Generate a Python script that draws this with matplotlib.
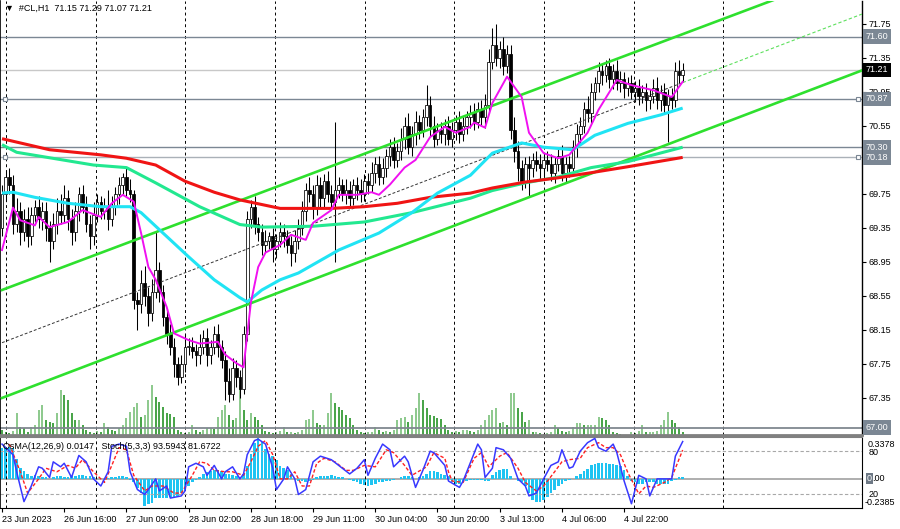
import matplotlib
matplotlib.use("Agg")
import matplotlib.pyplot as plt

plt.rcParams['font.family'] = ['Liberation Sans', 'DejaVu Sans']

# ---- data (CL, H1) ----
first_open = 69.35
closes = [
    69.75, 69.95, 69.85, 69.40, 69.55, 69.30, 69.45, 69.25, 69.50, 69.60, 69.45, 69.55,
    69.35, 69.20, 69.40, 69.55, 69.50, 69.70, 69.45, 69.30, 69.55, 69.75, 69.60, 69.40, 69.25, 69.50, 69.65, 69.55,
    69.60, 69.45, 69.60, 69.75, 69.85, 69.95, 69.80, 69.75,
    68.50,
    68.45, 68.70, 68.55, 68.35, 68.60, 68.85, 68.60,
    68.30, 68.10, 67.95, 67.75, 67.60, 67.75, 67.95,
    67.95, 67.90, 67.85, 67.95, 68.05, 67.85, 67.95, 68.10, 67.95, 67.80,
    67.55, 67.40, 67.70, 67.60, 67.45,
    68.10, 69.45, 69.60, 69.40,
    69.30, 69.15, 69.20, 69.25, 69.10, 69.20, 69.30, 69.25, 69.15, 69.05, 69.20,
    69.35, 69.55, 69.80, 69.75, 69.60, 69.85,
    69.70, 69.90, 69.75, 69.65, 69.80, 69.85, 69.75, 69.80, 69.70, 69.85, 69.80, 69.75, 69.90,
    69.85, 70.00, 70.10, 69.95, 70.05, 70.20, 70.30, 70.15, 70.25,
    70.40, 70.55, 70.30, 70.45, 70.60, 70.50, 70.65, 70.80, 70.55, 70.40, 70.50,
    70.45, 70.55, 70.40, 70.50, 70.60, 70.45, 70.55, 70.65,
    70.70, 70.60, 70.75, 70.65, 70.80,
    71.30, 71.50, 71.35, 71.45, 71.25, 71.40,
    70.50, 70.25, 70.05, 69.90, 70.10,
    70.05, 70.15, 70.10, 70.05, 70.15, 70.10, 70.00, 70.10, 70.20, 70.00, 70.10,
    70.05, 70.30, 70.45, 70.55, 70.75, 70.70, 70.95, 71.05,
    71.20, 71.15, 71.25, 71.10, 71.20, 71.05, 71.10, 71.00,
    71.05, 70.95, 71.00, 70.90, 70.95, 70.85, 70.90, 71.00, 70.85, 70.95, 70.80,
    70.90, 70.85, 71.20, 71.15, 71.21,
]
wick_up = [
    .10, .08, .10, .12, .15, .10, .12, .15, .10, .08, .12, .10,
    .10, .08, .12, .15, .20, .15, .10, .12, .10, .08, .10, .12, .10, .15, .10, .08,
    .10, .20, .12, .08, .10, .05, .10, .12,
    .05,
    .10, .15, .20, .10, .15, .45, .10,
    .08, .10, .12, .10, .08, .10, .15,
    .10, .12, .08, .15, .10, .12, .08, .10, .12, .08,
    .10, .15, .12, .10, .08,
    .10, .10, .08, .12,
    .08, .10, .12, .05, .10, .08, .12, .10, .08, .10, .12,
    .10, .12, .08, .15, .10, .12,
    .10, .08, .12, .10, .80, .10, .08, .12, .10, .08, .10, .12, .08,
    .10, .12, .08, .10, .12, .08, .10, .12, .10,
    .12, .10, .15, .10, .12, .08, .10, .23, .10, .12, .08,
    .10, .08, .12, .10, .08, .12, .10, .08,
    .10, .12, .08, .10, .12,
    .15, .20, .25, .10, .15, .10,
    .10, .15, .12, .10, .08,
    .10, .08, .10, .12, .08, .10, .12, .08, .10, .12, .08,
    .10, .08, .12, .10, .08, .15, .10, .08,
    .10, .08, .08, .10, .08, .12, .10, .08,
    .08, .10, .08, .10, .08, .10, .08, .10, .12, .08, .10,
    .08, .10, .10, .12, .08,
]
wick_dn = [
    .10, .08, .10, .12, .10, .15, .10, .12, .10, .08, .10, .12,
    .15, .25, .10, .12, .10, .08, .12, .15, .10, .12, .08, .10, .15, .10, .08, .10,
    .10, .12, .08, .10, .12, .10, .08, .10,
    .10,
    .30, .10, .12, .15, .10, .08, .12,
    .10, .12, .10, .15, .10, .08, .10,
    .10, .08, .12, .10, .08, .12, .10, .08, .12, .10,
    .22, .10, .08, .12, .10,
    .05, .08, .10, .12,
    .10, .12, .08, .10, .15, .10, .08, .12, .10, .15, .10,
    .10, .08, .12, .10, .15, .10,
    .10, .12, .10, .08, .70, .10, .08, .12, .10, .08, .12, .10, .08,
    .10, .08, .12, .10, .08, .10, .12, .10, .08,
    .10, .12, .08, .10, .12, .10, .08, .10, .12, .10, .08,
    .10, .12, .08, .10, .12, .10, .08, .10,
    .12, .10, .08, .10, .12,
    .10, .08, .10, .12, .10, .08,
    .10, .12, .15, .10, .08,
    .33, .10, .08, .12, .10, .08, .10, .12, .08, .10, .12,
    .10, .08, .12, .10, .08, .10, .12, .10,
    .10, .12, .08, .10, .12, .08, .10, .12,
    .10, .08, .12, .10, .08, .12, .10, .08, .10, .12, .10,
    .44, .10, .08, .10, .08,
]
volumes = [
    5, 3, 2, 4, 22, 8, 7, 3, 8, 10,
    25, 30, 15, 13, 12, 22, 45, 40, 35, 22,
    15, 15, 10, 5, 3, 2, 4, 3, 12, 8,
    5, 4, 7, 10, 17, 23, 28, 32, 18, 20,
    35, 50, 38, 33, 28, 22, 21, 18, 5, 3,
    2, 3, 10, 5, 3, 5, 7, 7, 6, 18,
    25, 30, 20, 15, 17, 50, 25, 15, 22, 18,
    15, 10, 4, 3, 2, 3, 4, 8, 3, 3,
    2, 3, 5, 15, 16, 25, 12, 10, 10, 22,
    42, 32, 28, 25, 20, 17, 10, 5, 3, 2,
    3, 3, 8, 5, 3, 4, 3, 5, 15, 17,
    18, 13, 20, 27, 42, 35, 27, 20, 19, 17,
    16, 10, 5, 3, 4, 3, 5, 5, 4, 3,
    5, 10, 15, 20, 25, 27, 12, 13, 10, 42,
    42, 27, 23, 13, 15, 3, 3, 2, 1, 2,
    3, 10, 7, 4, 3, 4, 8, 12, 12, 10,
    10, 10, 10, 18, 17, 15, 10, 3, 2, 1,
    0, 0, 3, 2, 4, 10, 3, 3, 3, 4,
    10, 15, 23, 15, 12, 8, 3,
]

# moving averages (bar index, price)
ma200_bars = [0, 13, 27, 34, 42, 50, 58, 65, 76, 90, 99, 108, 117, 128, 134, 143, 152, 161, 171, 186]
ma200 = [70.40, 70.27, 70.21, 70.17, 70.09, 69.90, 69.77, 69.68, 69.58, 69.58, 69.60, 69.64,
         69.71, 69.76, 69.82, 69.89, 69.94, 70.00, 70.07, 70.18]
ma144_bars = [0, 4, 25, 34, 42, 54, 65, 71, 85, 99, 112, 128, 134, 143, 152, 161, 171, 186]
ma144 = [70.33, 70.24, 70.09, 70.06, 69.88, 69.60, 69.39, 69.36, 69.37, 69.42, 69.53, 69.70,
         69.79, 69.88, 69.95, 70.06, 70.13, 70.30]
ma50_bars = [0, 3, 9, 18, 27, 35, 38, 43, 51, 58, 65, 67, 71, 76, 81, 92, 103, 112, 119, 128,
             134, 142, 148, 156, 162, 171, 180, 186]
ma50 = [69.76, 69.77, 69.71, 69.64, 69.60, 69.60, 69.53, 69.33, 69.01, 68.74, 68.53, 68.48,
        68.62, 68.74, 68.82, 69.09, 69.29, 69.53, 69.76, 69.97, 70.23, 70.35, 70.30, 70.27,
        70.44, 70.58, 70.68, 70.76]
ma12_bars = [0, 3, 5, 9, 10, 13, 18, 22, 27, 30, 33, 36, 38, 40, 42, 45, 47, 51, 54, 59, 61,
             64, 66, 68, 70, 72, 76, 79, 83, 85, 90, 92, 97, 101, 103, 106, 110, 113, 117, 121,
             124, 128, 129, 132, 134, 138, 142, 144, 148, 152, 155, 160, 163, 168, 172, 178,
             183, 186]
ma12 = [69.09, 69.59, 69.44, 69.38, 69.48, 69.36, 69.42, 69.56, 69.48, 69.64, 69.74, 69.66,
        69.29, 68.89, 68.74, 68.42, 68.11, 68.03, 67.99, 68.01, 67.86, 67.76, 67.71, 68.47,
        68.89, 69.06, 69.15, 69.27, 69.21, 69.41, 69.56, 69.74, 69.74, 69.77, 69.74, 69.86,
        70.06, 70.15, 70.42, 70.54, 70.47, 70.54, 70.59, 70.53, 70.82, 71.13, 70.89, 70.47,
        70.23, 70.17, 70.21, 70.47, 70.74, 71.09, 71.03, 70.97, 70.89, 71.07]

# channel: anchors at first and last bar
chan_bars = [0, 186]
chan_upper = [68.62, 71.63]
chan_mid = [68.00, 71.06]
chan_lower = [67.35, 70.40]

levels = [71.60, 71.21, 70.87, 70.30, 70.18, 67.00]

osma = [
    .25, .26, .26, .25, .16, .09, .06, .04, .02, .03,
    .02, .01, .01, .00, .01, .02, .02, .015, .01, .02,
    .025, .03, .03, .02, .02, .01, .0, -.005, .0, .005,
    .01, .015, .02, .02, .01, -.01, -.03, -.08, -.12, -.22,
    -.21, -.20, -.16, -.16, -.16, -.16, -.15, -.15, -.14, -.12,
    -.10, -.06, -.03, -.01, .01, .04, .05, .06, .07, .07,
    .06, .04, .04, .03, .02, .01, .04, .10, .20, .29,
    .33, .30, .24, .20, .18, .15, .10, .09, .07, .04,
    .0, -.02, -.02, -.03, -.02, -.01, .01, .02, .02, .02,
    .03, .02, .01, .01, .0, -.01, -.02, -.03, -.04, -.05,
    -.06, -.05, -.04, -.03, -.03, -.02, -.02, -.01, .0, .01,
    .02, .02, .01, .0, .01, .02, .04, .06, .06, .05,
    .04, .03, .02, -.03, -.04, -.04, -.03, -.02, -.01, -.01,
    -.01, -.01, -.02, -.02, .03, .05, .07, .08, .08, .02,
    .0, -.02, -.03, -.06, -.12, -.17, -.19, -.19, -.17, -.15,
    -.12, -.09, -.06, -.04, -.02, -.01, .0, .02, .04, .06,
    .08, .11, .12, .13, .13, .13, .12, .12, .11, .10,
    .07, .02, -.02, -.03, -.04, -.04, -.03, -.03, -.03, -.04,
    -.04, -.04, -.04, -.02, -.01, .01, .0147,
]
stoch_bars = [0, 3, 4, 6, 8, 10, 11, 13, 14, 16, 17, 19, 21, 23, 25, 27, 29, 30, 32, 34, 35, 37,
              39, 40, 42, 43, 45, 46, 49, 50, 51, 53, 55, 56, 58, 60, 61, 63, 65, 66, 67, 69, 70,
              72, 74, 75, 77, 78, 80, 81, 83, 85, 87, 90, 92, 95, 97, 99, 100, 102, 104, 106,
              107, 110, 111, 113, 115, 117, 118, 121, 122, 125, 126, 130, 131, 132, 134, 135,
              137, 139, 141, 143, 144, 146, 148, 150, 152, 153, 155, 156, 158, 160, 162, 163,
              165, 167, 168, 170, 172, 174, 176, 177, 179, 181, 183, 184, 186]
stoch_main = [90, 75, 51, 9, 31, 58, 56, 43, 65, 58, 63, 43, 74, 65, 41, 31, 51, 87, 90, 87, 51,
              26, 19, 26, 41, 24, 31, 14, 17, 24, 58, 63, 58, 46, 60, 41, 51, 58, 41, 48, 75, 95,
              97, 90, 56, 26, 41, 58, 41, 19, 26, 65, 73, 68, 60, 48, 56, 68, 46, 70, 90, 82, 58,
              73, 65, 29, 53, 80, 78, 60, 38, 29, 38, 90, 82, 43, 56, 85, 82, 70, 41, 31, 17, 21,
              41, 60, 65, 82, 56, 58, 80, 92, 98, 85, 80, 90, 78, 38, 6, 46, 41, 17, 41, 41, 41,
              73, 93.5943]
signal_bars = [2, 5, 7, 10, 12, 15, 18, 20, 22, 25, 28, 30, 32, 34, 36, 39, 41, 44, 47, 49, 52,
               54, 56, 58, 61, 63, 66, 68, 70, 72, 74, 76, 78, 80, 82, 84, 86, 88, 91, 94, 96,
               99, 102, 105, 107, 110, 112, 116, 118, 121, 122, 123, 126, 129, 131, 133, 136,
               138, 141, 143, 146, 148, 151, 153, 155, 158, 160, 163, 165, 167, 169, 171, 174,
               176, 178, 181, 183, 186]
stoch_signal = [90, 51, 21, 41, 56, 51, 60, 56, 68, 51, 36, 60, 85, 82, 46, 24, 31, 31, 21, 21,
                46, 65, 63, 53, 51, 51, 46, 65, 87, 95, 75, 41, 41, 51, 31, 31, 63, 70, 65, 53,
                53, 60, 58, 82, 78, 60, 46, 58, 78, 70, 51, 38, 36, 70, 78, 58, 73, 78, 56, 36,
                24, 31, 51, 65, 68, 70, 85, 92, 85, 85, 75, 50, 20, 31, 29, 36, 43, 81.6722]

osma_min, osma_max = -0.2385, 0.3378

tick_bars = [0, 17, 34, 51, 68, 85, 102, 119, 136, 153, 170]
tick_labels = ['23 Jun 2023', '26 Jun 16:00', '27 Jun 09:00', '28 Jun 02:00', '28 Jun 18:00',
               '29 Jun 11:00', '30 Jun 04:00', '30 Jun 20:00', '3 Jul 13:00', '4 Jul 06:00',
               '4 Jul 22:00']

# ---- styles ----
FS = 6.5
BOX = '#7b8794'
level_line_colors = ['#7b8794', '#c8c8c8', '#7b8794', '#7b8794', '#aab1b8', '#808890']
level_box_colors = [BOX, 'black', BOX, BOX, BOX, BOX]
level_markers = [False, False, True, False, True, False]

X_LEFT, X_RIGHT = -0.55, 235.0
GRID_START, GRID_STEP, GRID_COUNT = 1.1, 24.5, 9

fig = plt.figure(figsize=(9, 5.29), dpi=100)
fig.patch.set_facecolor('white')
ax = fig.add_axes([0.0, 94 / 529, 862 / 900, 434 / 529])
ax2 = fig.add_axes([0.0, 21 / 529, 862 / 900, 71 / 529])

# volumes in a twin axis behind the price chart
axv = ax.twinx()
axv.set_ylim(0, max(volumes) * 434 / 50)
axv.set_yticks([])
for s in axv.spines.values():
    s.set_visible(False)
ax.set_zorder(axv.get_zorder() + 1)
ax.patch.set_visible(False)
for i, v in enumerate(volumes):
    if v <= 0:
        continue
    col = '#6dbb6d' if i > 0 and v >= volumes[i - 1] else '#138a13'
    axv.vlines(i, 0, v, color=col, linewidth=1.1)

# candles
opens = [first_open] + closes[:-1]
for i, (o, c) in enumerate(zip(opens, closes)):
    top, bot = max(o, c), min(o, c)
    ax.vlines(i, bot - wick_dn[i], top + wick_up[i], color='black', linewidth=0.75, zorder=2)
    ax.bar(i, max(top - bot, 0.01), bottom=bot, width=0.72,
           color='white' if c >= o else 'black', edgecolor='black', linewidth=0.55, zorder=3)

# horizontal levels
for p, lc, bc, mk in zip(levels, level_line_colors, level_box_colors, level_markers):
    ax.axhline(p, color=lc, linewidth=1.3 if p == levels[-1] else 1.0, zorder=1)
    if mk:
        ax.plot([0.8, 234.0], [p, p], linestyle='none', marker='s', markersize=3,
                mfc='white', mec='#7b8794', mew=0.8, zorder=4, clip_on=False)
    ax.annotate(f'{p:.2f}', xy=(1.0, p), xycoords=('axes fraction', 'data'),
                xytext=(2.5, 0), textcoords='offset points', va='center', ha='left',
                fontsize=FS, color='white', annotation_clip=False, zorder=20,
                bbox=dict(boxstyle='square,pad=0.3', fc=bc, ec='none'))

# channel lines (rays to the right edge)
def ray(prices, x_end):
    slope = (prices[1] - prices[0]) / (chan_bars[1] - chan_bars[0])
    return [chan_bars[0], x_end], [prices[0], prices[0] + slope * (x_end - chan_bars[0])]

gx, gy = ray(chan_upper, X_RIGHT)
ax.plot(gx, gy, color='#2ee02e', linewidth=1.9, zorder=5)
gx, gy = ray(chan_lower, X_RIGHT)
ax.plot(gx, gy, color='#2ee02e', linewidth=1.9, zorder=5)
ax.plot(chan_bars, chan_mid, color='#333333', linewidth=0.7, linestyle=(0, (3, 2)), zorder=5)
mx, my = ray(chan_mid, X_RIGHT)
ax.plot([chan_bars[1], mx[1]], [chan_mid[1], my[1]], color='#5ee05e', linewidth=0.8,
        linestyle=(0, (3, 2)), zorder=5)

# moving averages
ax.plot(ma144_bars, ma144, color='#22e890', linewidth=2.2, zorder=6, solid_capstyle='butt')
ax.plot(ma200_bars, ma200, color='#f01414', linewidth=2.2, zorder=7, solid_capstyle='butt')
ax.plot(ma50_bars, ma50, color='#20e4f4', linewidth=2.2, zorder=8, solid_capstyle='butt')
ax.plot(ma12_bars, ma12, color='#f010f0', linewidth=1.4, zorder=9)

ax.set_xlim(X_LEFT, X_RIGHT)
ax.set_ylim(66.914, 72.020)
ax.set_xticks([])
ax.set_yticks([round(66.95 + 0.40 * k, 2) for k in range(13)])
ax.set_yticklabels([f'{66.95 + 0.40 * k:.2f}' for k in range(13)])
ax.yaxis.tick_right()
ax.tick_params(axis='y', direction='out', length=3, width=0.8, pad=2, labelsize=FS)
ax.spines['top'].set_visible(False)
ax.spines['bottom'].set_color('#808080')
ax.spines['bottom'].set_linewidth(2)
ax.spines['left'].set_linewidth(1.2)
ax.spines['right'].set_linewidth(1)
ax.text(0.006, 0.982, '\u25bc  #CL,H1  71.15 71.29 71.07 71.21', transform=ax.transAxes,
        fontsize=FS, va='center', ha='left', zorder=20)

for k in range(GRID_COUNT):
    for a in (ax, ax2):
        a.axvline(GRID_START + k * GRID_STEP, color='black', linewidth=0.7,
                  linestyle=(0, (3, 3)), zorder=0.5)

# ---- lower pane: OsMA histogram + stochastic ----
axh = ax2.twinx()
axh.set_ylim(osma_min, osma_max)
axh.set_yticks([])
for s in axh.spines.values():
    s.set_visible(False)
ax2.set_zorder(axh.get_zorder() + 1)
ax2.patch.set_visible(False)
axh.bar(range(len(osma)), osma, width=0.72, color='#1ec4f2', linewidth=0)
axh.axhline(0, color='#a8a8a8', linewidth=1.3, zorder=0)

ax2.axhline(80, color='#a8a8a8', linewidth=0.8, linestyle=(0, (3, 2)), zorder=1)
ax2.axhline(20, color='#a8a8a8', linewidth=0.8, linestyle=(0, (3, 2)), zorder=1)
ax2.plot(signal_bars, stoch_signal, color='#ff2020', linewidth=1.0, linestyle=(0, (2.5, 1.5)),
         zorder=3)
ax2.plot(stoch_bars, stoch_main, color='#3838ff', linewidth=1.1, zorder=4)

ax2.set_xlim(X_LEFT, X_RIGHT)
ax2.set_ylim(0, 100)
ax2.set_yticks([20, 80])
ax2.set_yticklabels(['20', '80'])
ax2.yaxis.tick_right()
ax2.tick_params(axis='y', direction='out', length=0, pad=5, labelsize=FS)
ax2.set_xticks(tick_bars)
ax2.set_xticklabels(tick_labels)
for lbl in ax2.get_xticklabels():
    lbl.set_horizontalalignment('left')
ax2.tick_params(axis='x', direction='out', length=3, width=0.8, pad=2, labelsize=FS)
ax2.spines['top'].set_color('#808080')
ax2.spines['top'].set_linewidth(1.5)
ax2.spines['left'].set_linewidth(1.2)

ax2.text(0.004, 0.86, 'OsMA(12,26,9) 0.0147   Stoch(5,3,3) 93.5943 81.6722',
         transform=ax2.transAxes, fontsize=FS, va='center', ha='left', zorder=10)
ax2.annotate(f'{osma_max:.4f}', xy=(1.0, 0.9), xycoords='axes fraction', xytext=(4, 0),
             textcoords='offset points', va='center', ha='left', fontsize=FS,
             annotation_clip=False)
ax2.annotate(f'{osma_min:.4f}', xy=(1.0, 0.08), xycoords='axes fraction', xytext=(2, 0),
             textcoords='offset points', va='center', ha='left', fontsize=FS,
             annotation_clip=False)
axh.annotate('0', xy=(1.0, 0.0), xycoords=('axes fraction', 'data'), xytext=(3.5, 0),
             textcoords='offset points', va='center', ha='left', fontsize=FS, color='white',
             annotation_clip=False, bbox=dict(boxstyle='square,pad=0.1', fc='#6d7885', ec='none'))
axh.annotate('.00', xy=(1.0, 0.0), xycoords=('axes fraction', 'data'), xytext=(7.6, 0),
             textcoords='offset points', va='center', ha='left', fontsize=FS,
             annotation_clip=False)

fig.savefig('out.png', dpi=100, facecolor='white')
